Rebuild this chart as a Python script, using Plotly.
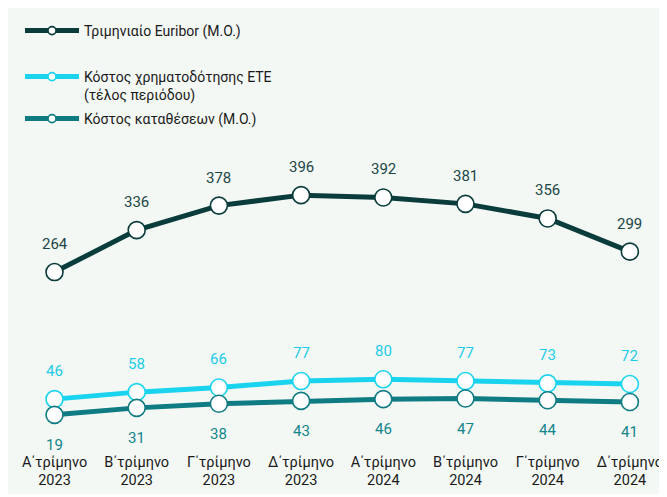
import plotly.graph_objects as go

categories = ["Α΄τρίμηνο<br>2023", "Β΄τρίμηνο<br>2023", "Γ΄τρίμηνο<br>2023", "Δ΄τρίμηνο<br>2023",
              "Α΄τρίμηνο<br>2024", "Β΄τρίμηνο<br>2024", "Γ΄τρίμηνο<br>2024", "Δ΄τρίμηνο<br>2024"]
euribor = [264, 336, 378, 396, 392, 381, 356, 299]
ete_cost = [46, 58, 66, 77, 80, 77, 73, 72]
deposit_cost = [19, 31, 38, 43, 46, 47, 44, 41]

names = ["Τριμηνιαίο Euribor (Μ.Ο.)",
         "Κόστος χρηματοδότησης ΕΤΕ<br>(τέλος περιόδου)",
         "Κόστος καταθέσεων (Μ.Ο.)"]
colors = ["#0a3c3b", "#1ad3ee", "#0f7b82"]
label_colors = ["#1d4645", "#1ccbe8", "#12858b"]
series = [euribor, ete_cost, deposit_cost]
label_shift = [28, 28, -30]
legends = ["legend", "legend2", "legend3"]

FONT = "Roboto"
BG = "#f3f8f5"
x_idx = list(range(len(categories)))

fig = go.Figure()
for s, c, n, lg in zip(series, colors, names, legends):
    fig.add_trace(go.Scatter(
        x=x_idx, y=s, mode="lines+markers", name=n, showlegend=False,
        line=dict(color=c, width=5),
        marker=dict(size=17, color="white", line=dict(color=c, width=1.6)),
        hoverinfo="skip"))
    # legend-only entry with smaller symbol
    fig.add_trace(go.Scatter(
        x=[None], y=[None], mode="lines+markers", name=n, showlegend=True, legend=lg,
        line=dict(color=c, width=5),
        marker=dict(size=8, color="white", line=dict(color=c, width=1.6))))

annotations = []
for s, lc, sh in zip(series, label_colors, label_shift):
    for i, v in zip(x_idx, s):
        annotations.append(dict(x=i, y=v, text=str(v), showarrow=False, yshift=sh,
                                font=dict(family=FONT, size=15, color=lc)))

FW, FH = 667, 497
L, R, T, B = 0, 0, 144, 54
W, H = FW - L - R, FH - T - B

def px_to_paper_x(px):
    return (px - L) / W

def px_to_paper_y(py):
    return (FH - B - py) / H

legend_common = dict(xanchor="left", yanchor="top", bgcolor="rgba(0,0,0,0)",
                     font=dict(family=FONT, size=14, color="#1a1a1a"), itemwidth=54,
                     borderwidth=0, valign="top")

fig.update_layout(
    width=FW, height=FH,
    margin=dict(l=L, r=R, t=T, b=B),
    paper_bgcolor=BG, plot_bgcolor="rgba(0,0,0,0)",
    xaxis=dict(tickmode="array", tickvals=x_idx, ticktext=categories,
               range=[-0.566, 7.549], showgrid=False, zeroline=False, showline=False,
               ticks="", tickfont=dict(family=FONT, size=14.5, color="#1a1a1a"), fixedrange=True),
    yaxis=dict(range=[-43, 470], visible=False, fixedrange=True),
    annotations=annotations,
    shapes=[dict(type="rect", xref="paper", yref="paper", layer="below",
                 x0=px_to_paper_x(-5), x1=px_to_paper_x(FW + 5),
                 y0=px_to_paper_y(FH + 5), y1=px_to_paper_y(486),
                 fillcolor="white", line=dict(width=0))],
    legend=dict(x=px_to_paper_x(12), y=px_to_paper_y(7), **legend_common),
    legend2=dict(x=px_to_paper_x(12), y=px_to_paper_y(53), **legend_common),
    legend3=dict(x=px_to_paper_x(12), y=px_to_paper_y(95), **legend_common),
    showlegend=True,
)

fig.write_html("out.html")
